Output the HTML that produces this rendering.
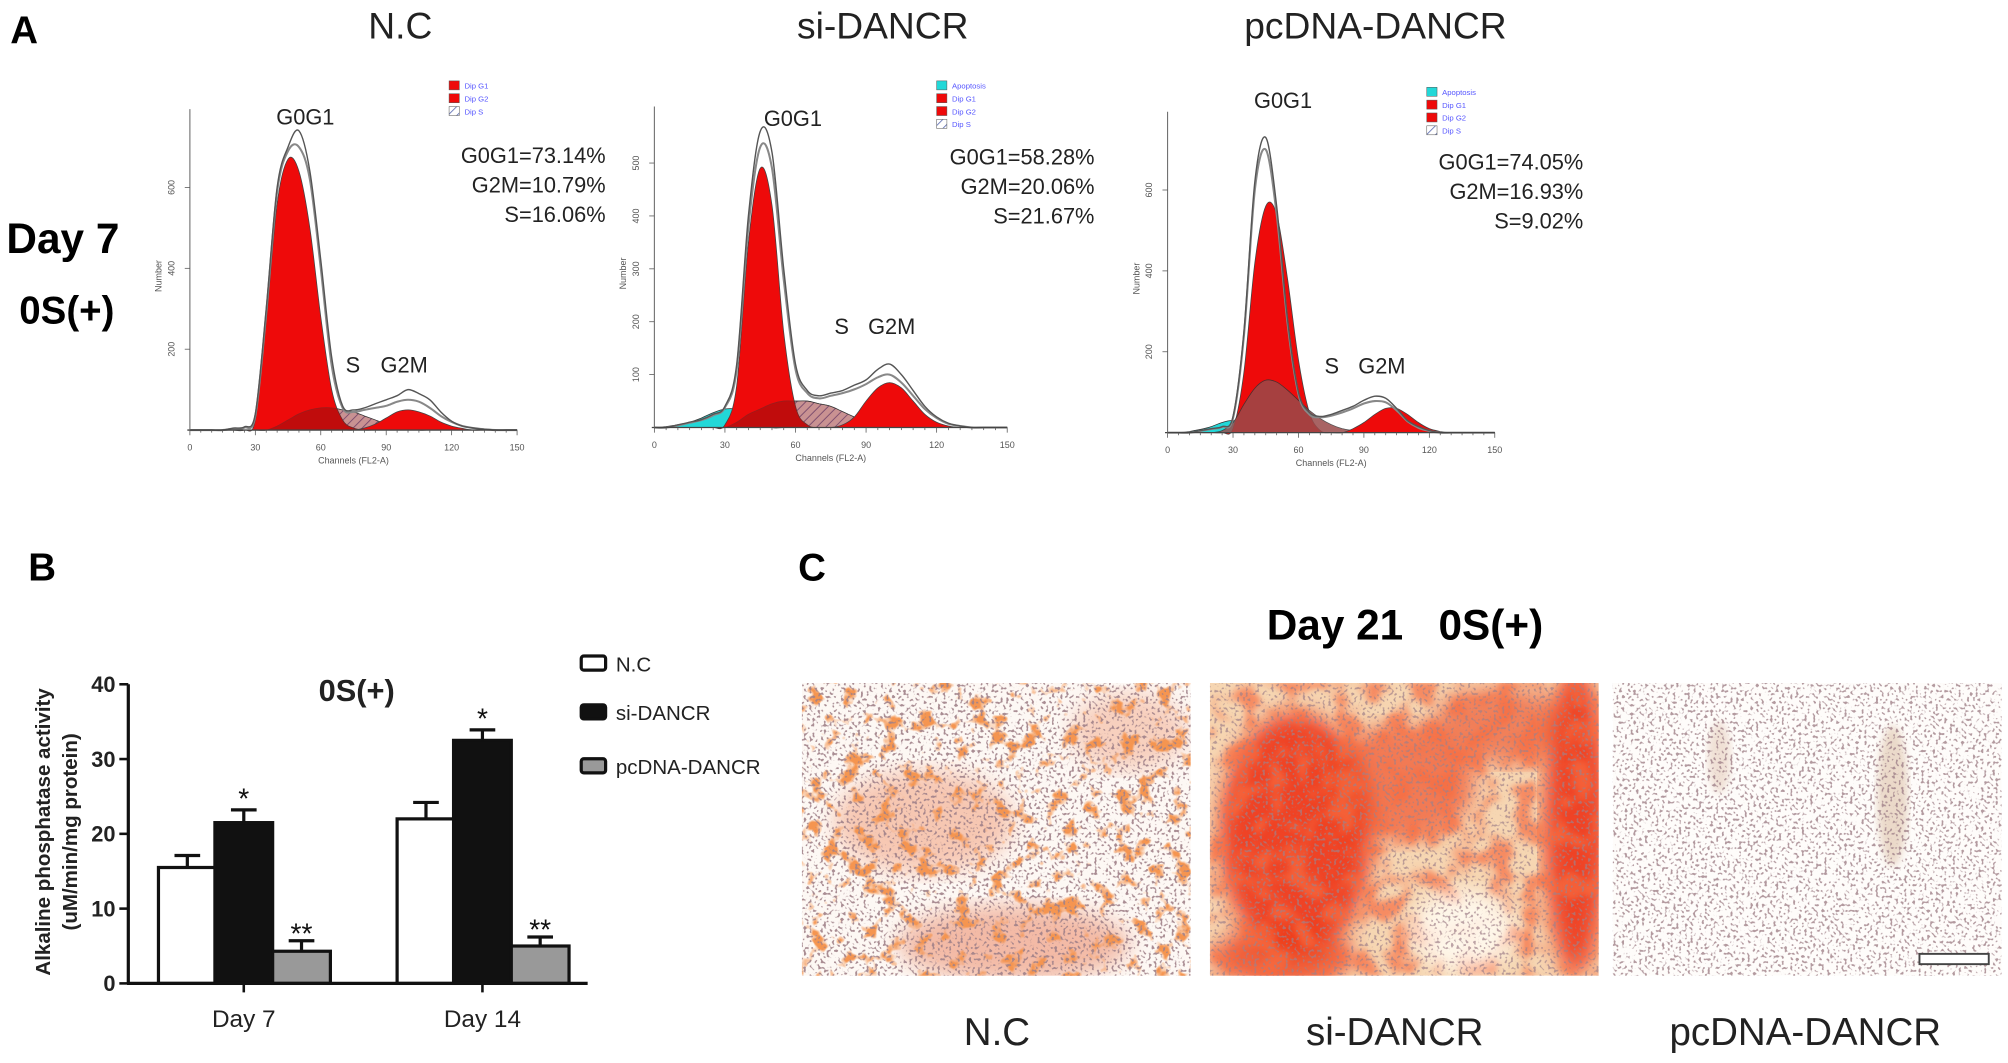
<!DOCTYPE html>
<html><head><meta charset="utf-8"><style>
html,body{margin:0;padding:0;background:#fff;}
svg{display:block;}
text{font-family:"Liberation Sans",sans-serif;}
</style></head><body>
<svg id="fig" width="2008" height="1063" viewBox="0 0 1565 828" preserveAspectRatio="none" xmlns="http://www.w3.org/2000/svg">
<defs>
<pattern id="hatch" width="5" height="5" patternUnits="userSpaceOnUse" patternTransform="rotate(45)">
<rect width="5" height="5" fill="#fff"/><line x1="0" y1="0" x2="0" y2="5" stroke="#6a78b8" stroke-width="1.4"/></pattern>
<filter id="blur8"><feGaussianBlur stdDeviation="8"/></filter>
<filter id="blur3"><feGaussianBlur stdDeviation="3"/></filter>
<filter id="speck" x="0" y="0" width="100%" height="100%">
<feTurbulence type="fractalNoise" baseFrequency="0.45" numOctaves="1" seed="3"/>
<feColorMatrix type="matrix" values="0 0 0 0 0.35 0 0 0 0 0.22 0 0 0 0 0.25 9 0 0 0 -5.0"/>
</filter>
<filter id="blob" x="0" y="0" width="100%" height="100%">
<feTurbulence type="fractalNoise" baseFrequency="0.07" numOctaves="3" seed="7"/>
<feColorMatrix type="matrix" values="0 0 0 0 0.91 0 0 0 0 0.3 0 0 0 0 0.08 7 0 0 0 -3.9"/>
</filter>
<filter id="blob2" x="0" y="0" width="100%" height="100%">
<feTurbulence type="fractalNoise" baseFrequency="0.05" numOctaves="2" seed="11"/>
<feColorMatrix type="matrix" values="0 0 0 0 0.93 0 0 0 0 0.15 0 0 0 0 0.05 5 0 0 0 -2.3"/>
<feGaussianBlur stdDeviation="2"/>
</filter>
<clipPath id="c1"><rect x="625" y="532" width="303" height="228"/></clipPath>
<clipPath id="c2"><rect x="943" y="532" width="303" height="228"/></clipPath>
<clipPath id="c3"><rect x="1257" y="532" width="303" height="228"/></clipPath>
</defs>

<text x="8" y="34" font-size="30" font-weight="bold">A</text>
<text x="312" y="30" font-size="29" text-anchor="middle" fill="#222">N.C</text>
<text x="688" y="30" font-size="29" text-anchor="middle" fill="#222">si-DANCR</text>
<text x="1072" y="30" font-size="29" text-anchor="middle" fill="#222">pcDNA-DANCR</text>
<text x="5" y="197" font-size="33" font-weight="bold">Day 7</text>
<text x="15" y="252" font-size="30" font-weight="bold">0S(+)</text>

<g id="hists"></g>

<text x="22" y="452" font-size="30" font-weight="bold">B</text>
<g id="bars"></g>

<text x="622" y="452" font-size="30" font-weight="bold">C</text>
<text x="1095" y="498" font-size="33" font-weight="bold" text-anchor="middle">Day 21&#160;&#160;&#160;0S(+)</text>

<g clip-path="url(#c1)">
<rect x="625" y="532" width="303" height="228" fill="#fdf8f4"/>
<ellipse cx="720" cy="640" rx="70" ry="40" fill="#e8581e" opacity="0.3" filter="url(#blur8)"/>
<ellipse cx="790" cy="735" rx="90" ry="30" fill="#e04818" opacity="0.35" filter="url(#blur8)"/>
<ellipse cx="880" cy="570" rx="45" ry="30" fill="#e8581e" opacity="0.25" filter="url(#blur8)"/>
<rect x="625" y="532" width="303" height="228" filter="url(#blob)"/>
<rect x="625" y="532" width="303" height="228" filter="url(#speck)" opacity="0.9"/>
</g>
<g clip-path="url(#c2)">
<rect x="943" y="532" width="303" height="228" fill="#f6d6b2"/>
<ellipse cx="1010" cy="650" rx="60" ry="95" fill="#ee2a0a" opacity="0.85" filter="url(#blur8)"/>
<ellipse cx="1090" cy="610" rx="60" ry="45" fill="#f04a20" opacity="0.65" filter="url(#blur8)"/>
<ellipse cx="1228" cy="640" rx="25" ry="120" fill="#ee2a0a" opacity="0.85" filter="url(#blur8)"/>
<ellipse cx="1000" cy="745" rx="55" ry="25" fill="#ee3a14" opacity="0.75" filter="url(#blur8)"/>
<ellipse cx="1170" cy="565" rx="55" ry="30" fill="#ee4a20" opacity="0.6" filter="url(#blur8)"/>
<rect x="943" y="532" width="303" height="228" filter="url(#blob2)" opacity="0.7"/>
<ellipse cx="1140" cy="725" rx="40" ry="32" fill="#fffaf0" opacity="0.9" filter="url(#blur8)"/>
<rect x="943" y="532" width="303" height="228" filter="url(#speck)" opacity="0.7"/>
</g>
<g clip-path="url(#c3)">
<rect x="1257" y="532" width="303" height="228" fill="#fefcfa"/>
<ellipse cx="1475" cy="620" rx="12" ry="55" fill="#c89a70" opacity="0.35" filter="url(#blur3)"/>
<ellipse cx="1340" cy="590" rx="9" ry="28" fill="#d0a080" opacity="0.3" filter="url(#blur3)"/>
<rect x="1257" y="532" width="303" height="228" filter="url(#speck)" opacity="0.8"/>
<rect x="1496" y="743" width="54" height="8" fill="#fff" stroke="#444" stroke-width="1.5"/>
</g>
<text x="777" y="814" font-size="30" text-anchor="middle" fill="#222">N.C</text>
<text x="1087" y="814" font-size="30" text-anchor="middle" fill="#222">si-DANCR</text>
<text x="1407" y="814" font-size="30" text-anchor="middle" fill="#222">pcDNA-DANCR</text>
</svg>

<script>
const NS="http://www.w3.org/2000/svg";
const channels=[0,5,10,15,20,25,30,35,40,45,50,55,60,65,70,75,80,85,90,95,100,105,110,115,120,125,130,135,140,145,150];
const ncTotal=[0,0,0,0,5,8,40,300,600,700,740,640,420,180,60,50,55,65,75,85,100,90,75,45,22,10,5,2,0,0,0];
const ncFit=[0,0,0,0,3,6,35,290,590,690,700,620,400,160,55,45,50,55,60,70,75,70,55,35,20,10,5,2,0,0,0];
const ncG1=[0,0,0,0,0,0,25,270,560,670,640,500,280,100,25,5,0,0,0,0,0,0,0,0,0,0,0,0,0,0,0];
const ncS=[0,0,0,0,0,0,0,0,10,25,40,50,55,55,50,45,35,25,15,8,3,0,0,0,0,0,0,0,0,0,0];
const ncG2=[0,0,0,0,0,0,0,0,0,0,0,0,0,0,0,0,5,15,30,45,50,45,35,20,10,4,0,0,0,0,0];
const ncApo=[0,0,0,0,0,0,0,0,0,0,0,0,0,0,0,0,0,0,0,0,0,0,0,0,0,0,0,0,0,0,0];
const siTotal=[0,0,5,10,15,25,40,120,400,560,520,300,120,70,60,65,70,80,90,110,120,100,70,40,20,8,3,0,0,0,0];
const siFit=[0,0,4,9,14,23,38,110,380,530,490,280,110,65,55,60,65,72,82,95,100,85,60,35,18,7,3,0,0,0,0];
const siG1=[0,0,0,0,0,0,5,80,350,490,420,180,40,5,0,0,0,0,0,0,0,0,0,0,0,0,0,0,0,0,0];
const siS=[0,0,0,0,0,0,0,10,25,35,45,50,50,50,45,40,30,20,10,5,0,0,0,0,0,0,0,0,0,0,0];
const siG2=[0,0,0,0,0,0,0,0,0,0,0,0,0,0,0,0,5,20,50,75,85,75,50,25,10,3,0,0,0,0,0];
const siApo=[0,2,5,10,18,28,35,35,30,15,0,0,0,0,0,0,0,0,0,0,0,0,0,0,0,0,0,0,0,0,0];
const pcTotal=[0,0,0,5,10,15,40,250,620,730,560,280,100,50,40,45,55,65,80,90,85,60,30,15,5,0,0,0,0,0,0];
const pcFit=[0,0,0,4,9,14,36,240,600,700,540,270,95,45,38,42,50,60,72,78,75,55,28,12,4,0,0,0,0,0,0];
const pcG1=[0,0,0,0,0,0,10,150,420,560,540,380,180,50,5,0,0,0,0,0,0,0,0,0,0,0,0,0,0,0,0];
const pcS=[0,0,0,0,0,5,25,70,110,130,125,105,80,55,35,20,10,5,0,0,0,0,0,0,0,0,0,0,0,0,0];
const pcG2=[0,0,0,0,0,0,0,0,0,0,0,0,0,0,0,0,0,10,25,45,60,60,45,25,10,3,0,0,0,0,0];
const pcApo=[0,0,3,8,15,25,30,20,5,0,0,0,0,0,0,0,0,0,0,0,0,0,0,0,0,0,0,0,0,0,0];
const ncYTicks=[200,400,600];
const siYTicks=[100,200,300,400,500];
const xTickLabels=[0,30,60,90,120,150];

const hists=[
 {name:"nc",x0:148,x1:403,base:335,ppu:189/600,yMax:810,ticks:ncYTicks,tot:ncTotal,fit:ncFit,g1:ncG1,s:ncS,g2:ncG2,apo:ncApo,sStyle:"hatch",
  labels:[["G0G1",238,97],["S",275,290],["G2M",315,290]],stats:["G0G1=73.14%","G2M=10.79%","S=16.06%"],sx:472,sy:127,legX:350,legY:63,leg:["Dip G1","Dip G2","Dip S"]},
 {name:"si",x0:510,x1:785,base:333,ppu:206/500,yMax:580,ticks:siYTicks,tot:siTotal,fit:siFit,g1:siG1,s:siS,g2:siG2,apo:siApo,sStyle:"hatch",
  labels:[["G0G1",618,98],["S",656,260],["G2M",695,260]],stats:["G0G1=58.28%","G2M=20.06%","S=21.67%"],sx:853,sy:128,legX:730,legY:63,leg:["Apoptosis","Dip G1","Dip G2","Dip S"]},
 {name:"pc",x0:910,x1:1165,base:337,ppu:189/600,yMax:800,ticks:ncYTicks,tot:pcTotal,fit:pcFit,g1:pcG1,s:pcS,g2:pcG2,apo:pcApo,sStyle:"brown",
  labels:[["G0G1",1000,84],["S",1038,291],["G2M",1077,291]],stats:["G0G1=74.05%","G2M=16.93%","S=9.02%"],sx:1234,sy:132,legX:1112,legY:68,leg:["Apoptosis","Dip G1","Dip G2","Dip S"]}
];

function el(tag,attrs,parent){const e=document.createElementNS(NS,tag);for(const k in attrs)e.setAttribute(k,attrs[k]);parent.appendChild(e);return e;}
function smooth(pts){let d="M"+pts[0][0]+","+pts[0][1];for(let i=0;i<pts.length-1;i++){const p0=pts[Math.max(0,i-1)],p1=pts[i],p2=pts[i+1],p3=pts[Math.min(pts.length-1,i+2)];
 const c1=[p1[0]+(p2[0]-p0[0])/6,p1[1]+(p2[1]-p0[1])/6],c2=[p2[0]-(p3[0]-p1[0])/6,p2[1]-(p3[1]-p1[1])/6];
 d+=" C"+c1[0].toFixed(1)+","+c1[1].toFixed(1)+" "+c2[0].toFixed(1)+","+c2[1].toFixed(1)+" "+p2[0].toFixed(1)+","+p2[1].toFixed(1);}return d;}

const hg=document.getElementById("hists");
hists.forEach(h=>{
 const xs=c=>h.x0+(h.x1-h.x0)*c/150, ys=v=>h.base-v*h.ppu;
 const g=el("g",{},hg);
 
 
 const pts=arr=>channels.map((c,i)=>[xs(c),ys(Math.min(arr[i],h.yMax))]);
 const area=arr=>smooth(pts(arr))+" L"+xs(150)+","+h.base+" L"+xs(0)+","+h.base+" Z";
 const a=el("path",{d:area(h.apo),fill:"#22d8d8",stroke:"#333","stroke-width":0.6},g);
 
 
 if(h.sStyle==="hatch"){
  const s=el("path",{d:area(h.s),fill:"url(#hatch)",stroke:"#333","stroke-width":0.6},g);
  
  
 }
 const g1=el("path",{d:area(h.g1),fill:"#ee0a0a",stroke:"#444","stroke-width":0.6},g);
 
 
 const sOver=el("path",{d:area(h.s),fill:h.sStyle==="brown"?"#9a4a4a":"#8a1010",opacity:h.sStyle==="brown"?0.85:0.45,stroke:"#333","stroke-width":0.6},g);
 
 
 const g2=el("path",{d:area(h.g2),fill:"#ee0a0a",stroke:"#444","stroke-width":0.6},g);
 
 
 const f=el("path",{d:smooth(pts(h.fit)),fill:"none",stroke:"#888","stroke-width":1.6},g);
 
 
 const t=el("path",{d:smooth(pts(h.tot)),fill:"none",stroke:"#555","stroke-width":1.1},g);
 
 
 el("line",{x1:h.x0-2,y1:h.base,x2:h.x1,y2:h.base,stroke:"#444","stroke-width":1},g);
 el("line",{x1:h.x0,y1:h.base,x2:h.x0,y2:h.base-250,stroke:"#666","stroke-width":0.8},g);
 for(let c=0;c<=150;c+=5){el("line",{x1:xs(c),y1:h.base,x2:xs(c),y2:h.base+(c%30===0?4:2),stroke:"#555","stroke-width":0.6},g);}
 xTickLabels.forEach(c=>{const tx=el("text",{x:xs(c),y:h.base+16,"font-size":7,"text-anchor":"middle",fill:"#555"},g);tx.textContent=c;});
 const xl=el("text",{x:(h.x0+h.x1)/2,y:h.base+26,"font-size":7,"text-anchor":"middle",fill:"#555"},g);xl.textContent="Channels (FL2-A)";
 
 
 h.ticks.forEach(v=>{const y=ys(v);el("line",{x1:h.x0-4,y1:y,x2:h.x0,y2:y,stroke:"#555","stroke-width":0.6},g);
  const ty=el("text",{x:h.x0-12,y:y,"font-size":7,"text-anchor":"middle",fill:"#555",transform:`rotate(-90 ${h.x0-12} ${y})`},g);ty.textContent=v;});
 const yl=el("text",{x:h.x0-22,y:h.base-120,"font-size":7,"text-anchor":"middle",fill:"#555",transform:`rotate(-90 ${h.x0-22} ${h.base-120})`},g);yl.textContent="Number";
 
 
 h.labels.forEach(l=>{const lt=el("text",{x:l[1],y:l[2],"font-size":17,"text-anchor":"middle",fill:"#222"},g);lt.textContent=l[0];});
 h.stats.forEach((s,i)=>{const st=el("text",{x:h.sx,y:h.sy+i*23,"font-size":17,"text-anchor":"end",fill:"#222"},g);st.textContent=s;
  
  });
 h.leg.forEach((s,i)=>{const y=h.legY+i*10;const col=s==="Apoptosis"?"#22d8d8":(s==="Dip S"?"url(#hatch)":"#ee0a0a");
  el("rect",{x:h.legX,y:y,width:8,height:7,fill:col,stroke:"#555","stroke-width":0.4},g);
  const lt=el("text",{x:h.legX+12,y:y+6,"font-size":6,fill:"#55f"},g);lt.textContent=s;
  
  });
});

const groups=["Day 7","Day 14"];
const series=["N.C","si-DANCR","pcDNA-DANCR"];
const ncVals=[15.5,22.0];
const siVals=[21.5,32.5];
const pcVals=[4.3,5.0];
const ncErr=[1.6,2.2];
const siErr=[1.7,1.4];
const pcErr=[1.4,1.2];
const sigMarks=[["","*","**"],["","*","**"]];
const yTicks=[0,10,20,30,40];

const bg=document.getElementById("bars");
const ax={x0:100,x1:458,y0:766,y1:533,max:40};
const yS=v=>ax.y0-(ax.y0-ax.y1)*v/ax.max;
const groupCenter=i=>190+i*186;
const barW=45;
const fills=["#fff","#111","#999"];
const vals=[ncVals,siVals,pcVals], errs=[ncErr,siErr,pcErr];
groups.forEach((gname,gi)=>{
 series.forEach((sname,si)=>{
  const v=vals[si][gi],e=errs[si][gi];
  const x=groupCenter(gi)+(si-1)*barW-barW/2+(si===0?1:0);
  const r=el("rect",{x:x,y:yS(v),width:barW,height:yS(0)-yS(v),fill:fills[si],stroke:"#111","stroke-width":2.5},bg);
  
  
  const cx=x+barW/2;
  el("line",{x1:cx,y1:yS(v),x2:cx,y2:yS(v+e),stroke:"#111","stroke-width":2.5},bg);
  el("line",{x1:cx-10,y1:yS(v+e),x2:cx+10,y2:yS(v+e),stroke:"#111","stroke-width":2.5},bg);
  const m=sigMarks[gi][si];
  if(m){const mt=el("text",{x:cx,y:yS(v+e)+(m==="*"?-1:2),"font-size":22,"text-anchor":"middle",fill:"#111"},bg);mt.textContent=m;
   
   }
 });
 el("line",{x1:groupCenter(gi),y1:ax.y0,x2:groupCenter(gi),y2:ax.y0+7,stroke:"#111","stroke-width":2},bg);
 const gl=el("text",{x:groupCenter(gi),y:ax.y0+34,"font-size":19,"text-anchor":"middle",fill:"#222"},bg);gl.textContent=gname;
 
 
});
const ya=el("line",{x1:ax.x0,y1:ax.y0,x2:ax.x0,y2:ax.y1,stroke:"#111","stroke-width":2.5},bg);


const xa=el("line",{x1:ax.x0-1,y1:ax.y0,x2:ax.x1,y2:ax.y0,stroke:"#111","stroke-width":2.5},bg);


yTicks.forEach(v=>{el("line",{x1:ax.x0-7,y1:yS(v),x2:ax.x0,y2:yS(v),stroke:"#111","stroke-width":2},bg);
 const t=el("text",{x:ax.x0-10,y:yS(v)+6,"font-size":17,"font-weight":"bold","text-anchor":"end",fill:"#222"},bg);t.textContent=v;
 
 });
const yt1=el("text",{x:39,y:648,"font-size":16,"font-weight":"bold","text-anchor":"middle",fill:"#222",transform:"rotate(-90 39 648)"},bg);yt1.textContent="Alkaline phosphatase activity";


const yt2=el("text",{x:60,y:648,"font-size":16,"font-weight":"bold","text-anchor":"middle",fill:"#222",transform:"rotate(-90 60 648)"},bg);yt2.textContent="(uM/min/mg protein)";


const ct=el("text",{x:278,y:546,"font-size":24,"font-weight":"bold","text-anchor":"middle",fill:"#222"},bg);ct.textContent="0S(+)";


series.forEach((s,i)=>{const y=[517,555,597][i];
 el("rect",{x:453,y:y-6,width:19,height:11,rx:2,fill:fills[i],stroke:"#111","stroke-width":2.5},bg);
 const lt=el("text",{x:480,y:y+6,"font-size":16,fill:"#222"},bg);lt.textContent=s;
 
 });
</script>
</body></html>
